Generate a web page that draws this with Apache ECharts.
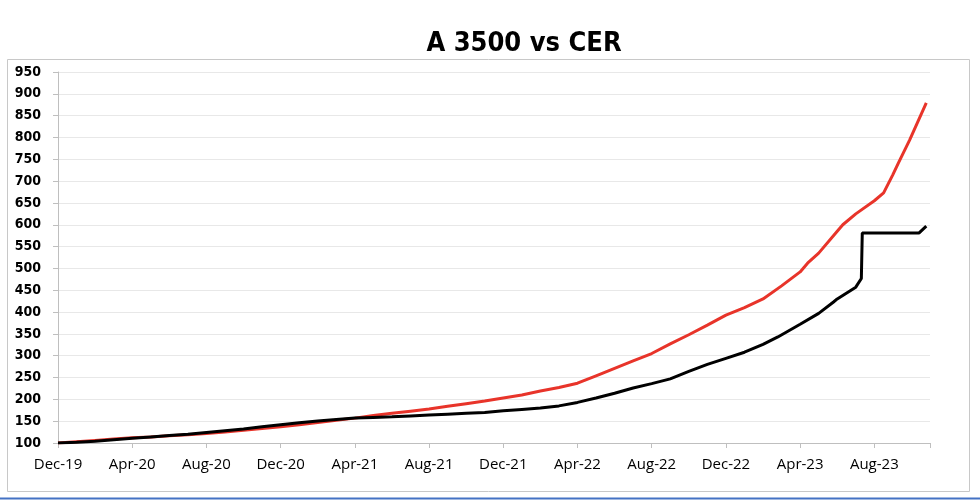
<!DOCTYPE html>
<html>
<head>
<meta charset="utf-8">
<script src="https://cdn.jsdelivr.net/npm/echarts@6/dist/echarts.min.js"></script>
<style>html,body{margin:0;padding:0;background:#fff;}#c{width:980px;height:503px;}</style>
</head>
<body>
<div id="c"></div>
<script>
// Tick labels on the x axis (every 4 months from Dec-19)
var tickLabels = ['Dec-19','Apr-20','Aug-20','Dec-20','Apr-21','Aug-21','Dec-21','Apr-22','Aug-22','Dec-22','Apr-23','Aug-23'];
// x positions in months since Dec-19
var a3500Months = [0,1,2,3,4,5,6,7,8,9,10,11,12,13,14,15,16,17,18,19,20,21,22,23,24,25,26,27,28,29,30,31,32,33,34,35,36,37,38,38.8,40,41,41.8,42,43,43.3,43.35,46.4,46.8];
var a3500Values = [100,101.5,104,107.5,111,114,117,120,124,128,132,137,142,146.5,150.5,154,157,158.5,160,162,164,166,168,170,174,177,180,185,193,203,214,226,236,247,264,280,294,308,326,343,372,397,423,430,457,477,581,581,597];
var cerMonths = [0,1,2,3,4,5,6,7,8,9,10,11,12,13,14,15,16,17,18,19,20,21,22,23,24,25,26,27,28,29,30,31,32,33,34,35,36,37,38,39,40,40.4,41,42,42.3,43,44,44.5,45,45.3,45.9,46.8];
var cerValues = [100,103,106,109,112,114,116.5,119,122,125,129,133,137,142,147,152,157,163,168,173,178,184,190,196,203,210,219,227,237,254,271,288,305,327,348,370,393,410,430,460,492,512,535,585,600,625,655,673,715,742,794,879];

function pairs(xs, ys){ var out=[]; for(var i=0;i<xs.length;i++) out.push([xs[i], ys[i]]); return out; }

var chart = echarts.init(document.getElementById('c'));
chart.setOption({
  animation: false,
  backgroundColor: '#ffffff',
  title: {
    text: 'A 3500 vs CER',
    left: 519, top: 25, textAlign: 'center',
    textStyle: {fontFamily: 'DejaVu Sans Condensed', fontWeight: 'bold', fontSize: 27, color: '#000'}
  },
  graphic: [
    {type: 'rect', shape: {x: 7.5, y: 59.5, width: 962, height: 432}, style: {fill: 'none', stroke: '#c8c8c8', lineWidth: 1}, z: -1},
    {type: 'line', shape: {x1: 0, y1: 498.5, x2: 980, y2: 498.5}, style: {stroke: '#4472c4', lineWidth: 2}}
  ],
  grid: {left: 58, right: 50, top: 72, bottom: 60},
  xAxis: {
    type: 'value', min: 0, max: 47, interval: 4,
    axisLine: {lineStyle: {color: '#bfbfbf'}},
    axisTick: {show: true, length: 5, lineStyle: {color: '#bfbfbf'}},
    splitLine: {show: false},
    axisLabel: {
      margin: 14, color: '#000', fontSize: 15, fontFamily: 'Open Sans',
      formatter: function(v){ var i = Math.round(v/4); return tickLabels[i] || ''; }
    }
  },
  yAxis: {
    type: 'value', min: 100, max: 950, interval: 50,
    axisLine: {show: true, lineStyle: {color: '#bfbfbf'}},
    axisTick: {show: true, length: 5, lineStyle: {color: '#bfbfbf'}},
    splitLine: {lineStyle: {color: '#e8e8e8'}},
    axisLabel: {margin: 17, color: '#000', fontSize: 14, fontWeight: 'bold', fontFamily: 'DejaVu Sans Condensed'}
  },
  series: [
    {name: 'CER', type: 'line', data: pairs(cerMonths, cerValues), showSymbol: false, lineStyle: {color: '#e8342a', width: 3}, z: 2},
    {name: 'A3500', type: 'line', data: pairs(a3500Months, a3500Values), showSymbol: false, lineStyle: {color: '#000', width: 3}, z: 3}
  ]
});
</script>
</body>
</html>
